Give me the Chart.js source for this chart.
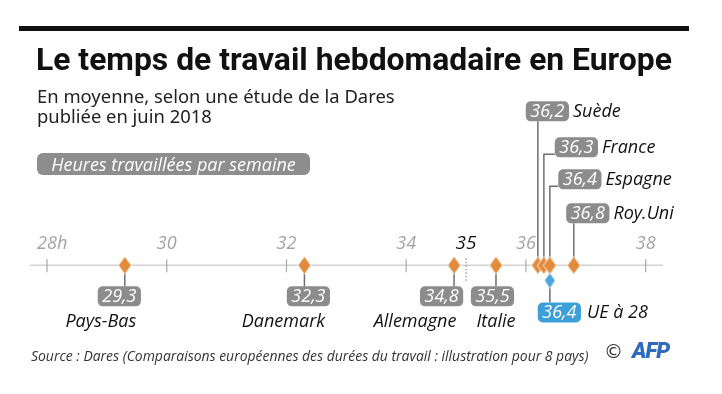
<!DOCTYPE html>
<html lang="fr">
<head>
<meta charset="utf-8">
<script src="https://cdn.jsdelivr.net/npm/chart.js@4.4.1/dist/chart.umd.min.js"></script>
<style>
  body { margin: 0; background: #fff; }
  #wrap { position: relative; width: 722px; height: 394px; overflow: hidden; }
  #wrap canvas { position: absolute; left: 0; top: 0; }
  .txt { position: absolute; white-space: nowrap; }
  #bar { position: absolute; left: 19px; top: 26px; width: 670px; height: 5px; background: #111; }
  #title { left: 36px; top: 45px; font: 700 29px/29px Roboto, sans-serif; color: #111; }
  #sub { left: 37px; top: 86px; font: 400 17.5px/20px "Noto Sans", sans-serif; color: #222; }
  #badge { left: 37px; top: 153px; width: 273px; height: 22px; background: #8d8d8d; border-radius: 6px;
           color: #fff; font: italic 400 18px/22px "Open Sans", sans-serif; text-align: center; }
  #src { left: 31px; top: 348px; font: italic 400 13.5px/16px "Open Sans", sans-serif; color: #333; }
  #copy { left: 604px; top: 340px; font: 400 19px/22px "DejaVu Sans", sans-serif; color: #333; }
  #afp { left: 632px; top: 340px; font: italic 900 22px/22px Roboto, sans-serif; color: #2e6bbd; letter-spacing: -1px; }
</style>
</head>
<body>
<div id="wrap">
  <canvas id="chart" width="722" height="394"></canvas>
  <div id="bar"></div>
  <div class="txt" id="title">Le temps de travail hebdomadaire en Europe</div>
  <div class="txt" id="sub"><span id="sub1">En moyenne, selon une étude de la Dares</span><br>publiée en juin 2018</div>
  <div class="txt" id="badge">Heures travaillées par semaine</div>
  <div class="txt" id="src">Source : Dares (Comparaisons européennes des durées du travail : illustration pour 8 pays)</div>
  <div class="txt" id="copy">©</div>
  <div class="txt" id="afp">AFP</div>
</div>
<script>
const countries = ['Pays-Bas', 'Danemark', 'Allemagne', 'Italie', 'Suède', 'France', 'Espagne', 'Roy.Uni'];
const hours = [29.3, 32.3, 34.8, 35.5, 36.2, 36.3, 36.4, 36.8];
const euName = 'UE à 28';
const euHours = 36.4;
const tickValues = [28, 30, 32, 34, 36, 38];
const tickLabels = ['28h', '30', '32', '34', '36', '38'];
const legalHours = 35;

// where each callout sits relative to its diamond (px)
const callouts = {
    'Pays-Bas':  { side: 'below', box: -5.5, name: -24 },
    'Danemark':  { side: 'below', box: 4,    name: -21 },
    'Allemagne': { side: 'below', box: -12.5, name: -39 },
    'Italie':    { side: 'below', box: -3.5, name: 0 },
    'Suède':     { side: 'above', box: 9.5,  top: -164 },
    'France':    { side: 'above', box: 32.5, top: -128 },
    'Espagne':   { side: 'above', box: 30,   top: -96 },
    'Roy.Uni':   { side: 'above', box: 14,   top: -62 }
};

const ORANGE = '#e38b3c';
const BLUE = '#3d9fd8';
const GREY_BOX = '#8c8c8c';
const LINE = '#6f6f6f';

function fit(id, target, sizeId) {
    const el = document.getElementById(id);
    const w = el.getBoundingClientRect().width;
    const box = document.getElementById(sizeId || id);
    const fs = parseFloat(getComputedStyle(box).fontSize);
    box.style.fontSize = (fs * target / w) + 'px';
}
fit('title', 636);
fit('src', 558);
fit('sub1', 358, 'sub');

function diamond(w, h, color) {
    const c = document.createElement('canvas');
    c.width = w + 2;
    c.height = h + 2;
    const g = c.getContext('2d');
    g.beginPath();
    g.moveTo(c.width / 2, 1);
    g.lineTo(c.width - 1, c.height / 2);
    g.lineTo(c.width / 2, c.height - 1);
    g.lineTo(1, c.height / 2);
    g.closePath();
    g.fillStyle = color;
    g.fill();
    g.strokeStyle = 'rgba(255,255,255,0.8)';
    g.lineWidth = 1;
    g.stroke();
    return c;
}

const fmt = v => v.toFixed(1).replace('.', ',');

function boxWidth(ctx, text) {
    ctx.font = 'italic 400 18px "Open Sans"';
    return ctx.measureText(text).width + 9;
}

function valueBox(ctx, cx, top, text, fill) {
    const w = boxWidth(ctx, text);
    const left = cx - w / 2;
    ctx.fillStyle = fill;
    ctx.beginPath();
    ctx.roundRect(left, top, w, 20, 5);
    ctx.fill();
    ctx.fillStyle = '#fff';
    ctx.textAlign = 'center';
    ctx.textBaseline = 'middle';
    ctx.fillText(text, cx, top + 10.5);
    return { left: left, right: left + w, top: top, bottom: top + 20 };
}

const axisPlugin = {
    id: 'hoursAxis',
    beforeDatasetsDraw(chart) {
        const { ctx, chartArea, scales: { x, y } } = chart;
        const y0 = y.getPixelForValue(0);
        ctx.save();
        ctx.strokeStyle = '#d2d2d2';
        ctx.lineWidth = 1.5;
        ctx.beginPath();
        ctx.moveTo(chartArea.left, y0);
        ctx.lineTo(chartArea.right, y0);
        ctx.stroke();

        ctx.strokeStyle = '#a9a9a9';
        ctx.lineWidth = 1.2;
        ctx.font = 'italic 400 18px "Open Sans"';
        ctx.fillStyle = '#a3a3a3';
        ctx.textBaseline = 'alphabetic';
        ctx.textAlign = 'left';
        tickValues.forEach((v, i) => {
            const px = x.getPixelForValue(v);
            ctx.beginPath();
            ctx.moveTo(px, y0 - 6);
            ctx.lineTo(px, y0 + 7);
            ctx.stroke();
            const num = tickLabels[i].replace('h', '');
            ctx.fillText(tickLabels[i], px - ctx.measureText(num).width / 2, y0 - 16);
        });

        const lx = x.getPixelForValue(legalHours);
        ctx.strokeStyle = '#8a8a8a';
        ctx.lineWidth = 1.2;
        ctx.setLineDash([1.5, 2]);
        ctx.beginPath();
        ctx.moveTo(lx, y0 - 7);
        ctx.lineTo(lx, y0 + 16);
        ctx.stroke();
        ctx.setLineDash([]);
        ctx.font = 'italic 500 19px "Open Sans"';
        ctx.fillStyle = '#111';
        ctx.textAlign = 'center';
        ctx.fillText(String(legalHours), lx, y0 - 16);
        ctx.restore();
    }
};

function calloutGeometry(chart, i) {
    const { ctx, scales: { x, y } } = chart;
    const c = callouts[countries[i]];
    const px = x.getPixelForValue(hours[i]);
    const py = y.getPixelForValue(0);
    const w = boxWidth(ctx, fmt(hours[i]));
    const cx = px + c.box;
    const top = c.side === 'below' ? py + 21 : py + c.top;
    return { c, px, py, cx, top, left: cx - w / 2, right: cx + w / 2, bottom: top + 20 };
}

const calloutPlugin = {
    id: 'callouts',
    beforeDatasetsDraw(chart) {
        const { ctx, scales: { x, y } } = chart;
        ctx.save();
        ctx.strokeStyle = LINE;
        ctx.lineWidth = 1.5;
        countries.forEach((name, i) => {
            const g = calloutGeometry(chart, i);
            ctx.beginPath();
            ctx.moveTo(g.px, g.py);
            if (g.c.side === 'below') {
                ctx.lineTo(g.px, g.top);
            } else if (g.px > g.left + 3 && g.px < g.right - 3) {
                ctx.lineTo(g.px, g.bottom);
            } else {
                ctx.lineTo(g.px, g.bottom - 3);
                ctx.lineTo(g.left, g.bottom - 3);
            }
            ctx.stroke();
        });
        const ex = x.getPixelForValue(euHours);
        const ey = y.getPixelForValue(-1);
        ctx.beginPath();
        ctx.moveTo(ex, ey);
        ctx.lineTo(ex, ey + 22);
        ctx.stroke();
        ctx.restore();
    },
    afterDatasetsDraw(chart) {
        const { ctx, scales: { x, y } } = chart;
        ctx.save();
        countries.forEach((name, i) => {
            const g = calloutGeometry(chart, i);
            const b = valueBox(ctx, g.cx, g.top, fmt(hours[i]), GREY_BOX);
            ctx.font = 'italic 400 18px "Open Sans"';
            ctx.fillStyle = '#111';
            ctx.textBaseline = 'middle';
            if (g.c.side === 'below') {
                ctx.textAlign = 'center';
                ctx.fillText(name, g.px + g.c.name, b.bottom + 15.5);
            } else {
                ctx.textAlign = 'left';
                ctx.fillText(name, b.right + 4, b.top + 10.5);
            }
        });
        const ex = x.getPixelForValue(euHours);
        const ey = y.getPixelForValue(-1);
        const b = valueBox(ctx, ex + 9.5, ey + 22, fmt(euHours), BLUE);
        ctx.font = 'italic 400 18px "Open Sans"';
        ctx.fillStyle = '#111';
        ctx.textAlign = 'left';
        ctx.textBaseline = 'middle';
        ctx.fillText(euName, b.right + 6, b.top + 10.5);
        ctx.restore();
    }
};

new Chart(document.getElementById('chart'), {
    type: 'scatter',
    data: {
        datasets: [{
            data: hours.map(h => ({ x: h, y: 0 })),
            pointStyle: diamond(13, 18, ORANGE),
            pointRadius: 9
        }, {
            data: [{ x: euHours, y: -1 }],
            pointStyle: diamond(11, 16, '#4aa6dc'),
            pointRadius: 8
        }]
    },
    options: {
        responsive: false,
        animation: false,
        events: [],
        layout: { padding: { left: 30, right: 59, top: 0, bottom: 0 } },
        scales: {
            x: { type: 'linear', min: 27.716, max: 38.29, display: false },
            y: { min: -7.8125, max: 16.8125, display: false }
        },
        plugins: { legend: { display: false }, tooltip: { enabled: false } }
    },
    plugins: [axisPlugin, calloutPlugin]
});
</script>
</body>
</html>
